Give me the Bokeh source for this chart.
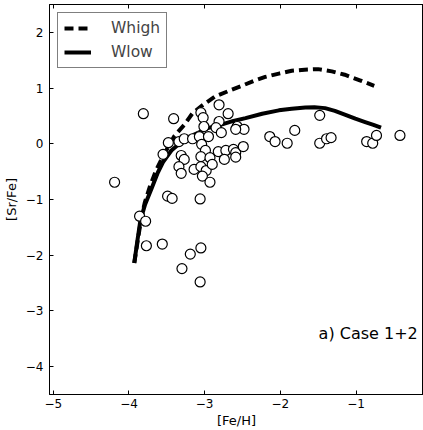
from bokeh.plotting import figure
from bokeh.models import Range1d, LinearAxis, Legend, LegendItem, Label, FixedTicker
from bokeh.embed import file_html
from bokeh.resources import INLINE

# Observed stars
fe_h = [-4.19, -3.81, -3.86, -3.78, -3.77, -3.56, -3.49, -3.43, -3.41, -3.55,
        -3.48, -3.34, -3.27, -3.16, -3.31, -3.27, -3.34, -3.31, -3.14, -3.07,
        -3.05, -3.02, -3.01, -3.04, -2.99, -3.05, -2.93, -3.05, -2.98, -3.03,
        -2.93, -3.06, -2.90, -2.81, -2.69, -2.81, -2.85, -2.78, -2.95, -2.57,
        -2.48, -2.59, -2.82, -2.72, -2.62, -2.59, -2.49, -2.74, -2.59, -2.14,
        -2.07, -1.91, -1.81, -1.48, -1.48, -1.39, -1.33, -0.86, -0.78, -0.73,
        -0.42, -3.30, -3.19, -3.05, -3.06]
sr_fe = [-0.69, 0.54, -1.30, -1.39, -1.83, -1.80, -0.94, -0.98, 0.45, -0.19,
         0.02, 0.04, 0.09, 0.09, -0.21, -0.28, -0.41, -0.53, -0.46, 0.13,
         0.56, 0.47, 0.31, -0.01, -0.12, -0.23, -0.25, -0.41, -0.48, -0.58,
         -0.69, -0.99, -0.37, 0.70, 0.54, 0.40, 0.29, 0.20, 0.13, 0.31,
         0.26, 0.26, -0.14, -0.12, -0.10, -0.16, -0.05, -0.28, -0.24, 0.13,
         0.04, 0.01, 0.24, 0.51, 0.01, 0.09, 0.11, 0.04, 0.01, 0.15,
         0.15, -2.24, -1.98, -1.87, -2.48]

# Model curves
whigh_x = [-3.93, -3.88, -3.84, -3.79, -3.72, -3.64, -3.56, -3.48, -3.40, -3.27,
           -3.16, -3.02, -2.86, -2.68, -2.51, -2.35, -2.20, -2.02, -1.85, -1.68,
           -1.50, -1.32, -1.15, -0.95, -0.76]
whigh_y = [-2.14, -1.70, -1.35, -1.05, -0.75, -0.47, -0.25, -0.05, 0.14, 0.34,
           0.55, 0.70, 0.85, 0.95, 1.04, 1.13, 1.20, 1.26, 1.31, 1.33,
           1.34, 1.30, 1.24, 1.14, 1.04]
wlow_x = [-3.93, -3.89, -3.85, -3.79, -3.70, -3.62, -3.55, -3.44, -3.30, -3.13,
          -2.96, -2.79, -2.62, -2.46, -2.24, -2.02, -1.85, -1.67, -1.55, -1.41,
          -1.28, -1.14, -1.01, -0.88, -0.77, -0.67]
wlow_y = [-2.14, -1.75, -1.38, -1.10, -0.80, -0.52, -0.33, -0.12, 0.04, 0.17,
          0.28, 0.34, 0.41, 0.46, 0.54, 0.60, 0.63, 0.65, 0.655, 0.64,
          0.59, 0.52, 0.45, 0.39, 0.34, 0.29]

x_ticks = [-5, -4, -3, -2, -1]
y_ticks = [-4, -3, -2, -1, 0, 1, 2]

FONT = "DejaVu Sans"

p = figure(width=423, height=430,
           x_range=Range1d(-5.05, -0.109), y_range=Range1d(-4.5, 2.5),
           output_backend="svg", toolbar_location=None,
           min_border_left=48, min_border_right=0, min_border_top=4,
           min_border_bottom=34,
           x_axis_label="[Fe/H]", y_axis_label="[Sr/Fe]")
p.grid.visible = False
p.outline_line_color = "black"
p.outline_line_width = 1

def minus(v):
    return ("\u2212" + str(abs(v))) if v < 0 else str(v)

for ax, ticks in ((p.xaxis[0], x_ticks), (p.yaxis[0], y_ticks)):
    ax.ticker = FixedTicker(ticks=ticks)
    ax.major_label_overrides = {t: minus(t) for t in ticks}
    ax.major_tick_in = 4
    ax.major_tick_out = 0
    ax.minor_tick_line_color = None
    ax.axis_line_color = "black"
    ax.major_tick_line_color = "black"
    ax.major_label_text_font = FONT
    ax.major_label_text_font_size = "12px"
    ax.major_label_text_color = "black"
    ax.axis_label_text_font = FONT
    ax.axis_label_text_font_size = "13px"
    ax.axis_label_text_font_style = "normal"
    ax.axis_label_text_color = "black"
p.xaxis[0].major_label_standoff = 4
p.xaxis[0].axis_label_standoff = 2
p.yaxis[0].major_label_standoff = 6
p.yaxis[0].axis_label_standoff = 4

# top spine ticks (no labels)
top = LinearAxis(ticker=FixedTicker(ticks=x_ticks), major_tick_in=4, major_tick_out=0,
                 minor_tick_line_color=None, major_label_text_font_size="1px",
                 major_label_text_color=None, major_label_standoff=0,
                 axis_line_color="black")
p.add_layout(top, "above")

r_high = p.line(whigh_x, whigh_y, line_color="black", line_width=4, line_dash="9 5",
                line_join="round")
r_low = p.line(wlow_x, wlow_y, line_color="black", line_width=4, line_join="round")
p.scatter(fe_h, sr_fe, marker="circle", size=10, fill_color="white",
          line_color="black", line_width=1.2)

legend = Legend(items=[LegendItem(label="Whigh", renderers=[r_high]),
                       LegendItem(label="Wlow", renderers=[r_low])],
                location="top_left", margin=8, padding=6, spacing=6,
                glyph_width=27, glyph_height=18, label_height=18, label_standoff=20,
                label_text_font=FONT, label_text_font_size="15.5px",
                border_line_color="black", border_line_width=1,
                background_fill_color="white", background_fill_alpha=1)
p.add_layout(legend)

p.add_layout(Label(x=-1.495, y=-3.405, text="a) Case 1+2", text_font=FONT,
                   text_font_size="16px", text_baseline="middle", text_color="black"))

open("out.html", "w").write(file_html(p, INLINE))
